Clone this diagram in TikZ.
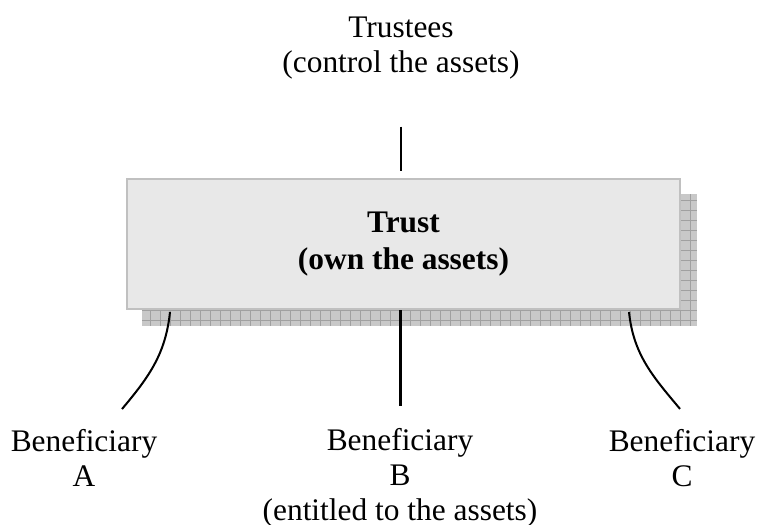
\documentclass[tikz,border=0pt]{standalone}
\usepackage{fontspec}
\setmainfont{Liberation Serif}
\usepackage{tikz}
\usetikzlibrary{backgrounds,calc,positioning}
\definecolor{boxfill}{RGB}{232,232,232}
\definecolor{boxline}{RGB}{192,192,192}
\definecolor{shadefill}{RGB}{200,200,200}
\definecolor{shadeline}{RGB}{160,160,160}

\begin{document}
\begin{tikzpicture}[x=0.5pt,y=-0.5pt,
  lbl/.style={align=center,inner sep=2pt,font=\fontsize{15.7}{17.5}\selectfont},
  trustbox/.style={draw=boxline,fill=boxfill,line width=1pt,minimum width=276.5pt,
    minimum height=65pt,inner sep=0pt,align=center,font=\fontsize{15.7}{18.5}\selectfont\bfseries},
  link/.style={black,line width=1pt},
  stem/.style={black,line width=0.6pt}]
\useasboundingbox (0,0) rectangle (761,525);
\node[trustbox] (trust) at (403.5,244) {Trust\\(own the assets)};
\node[lbl] (trustees) at (401,48) {Trustees\\(control the assets)};
\node[lbl] (benA) at (84,458) {Beneficiary\\A};
\node[lbl] (benB) at (400,478) {Beneficiary\\B\\(entitled to the assets)};
\node[lbl] (benC) at (682,458) {Beneficiary\\C};
% shadow behind the box
\begin{scope}[on background layer]
\fill[shadefill] ($(trust.south west)+(16,16)$) rectangle ($(trust.north east)+(16,16)$);
\draw[shadeline,line width=0.5pt] ($(trust.south west)+(16,16)$) grid[step=5pt] ($(trust.north east)+(16,16)$);
\end{scope}
\draw[stem] ($(trustees.south)+(0,43)$) -- ($(trust.north -| trustees)+(0,-7)$);
\draw[link] ($(trust.south west)+(44,2)$) to[out=-96,in=50] ($(benA.north)+(38,-16)$);
\draw[link,line width=1.5pt] (trust.south -| benB) -- ($(benB.north)+(0,-18)$);
\draw[link] ($(trust.south east)+(-52,2)$) to[out=-84,in=130] ($(benC.north)+(-2,-16)$);
\end{tikzpicture}
\end{document}
